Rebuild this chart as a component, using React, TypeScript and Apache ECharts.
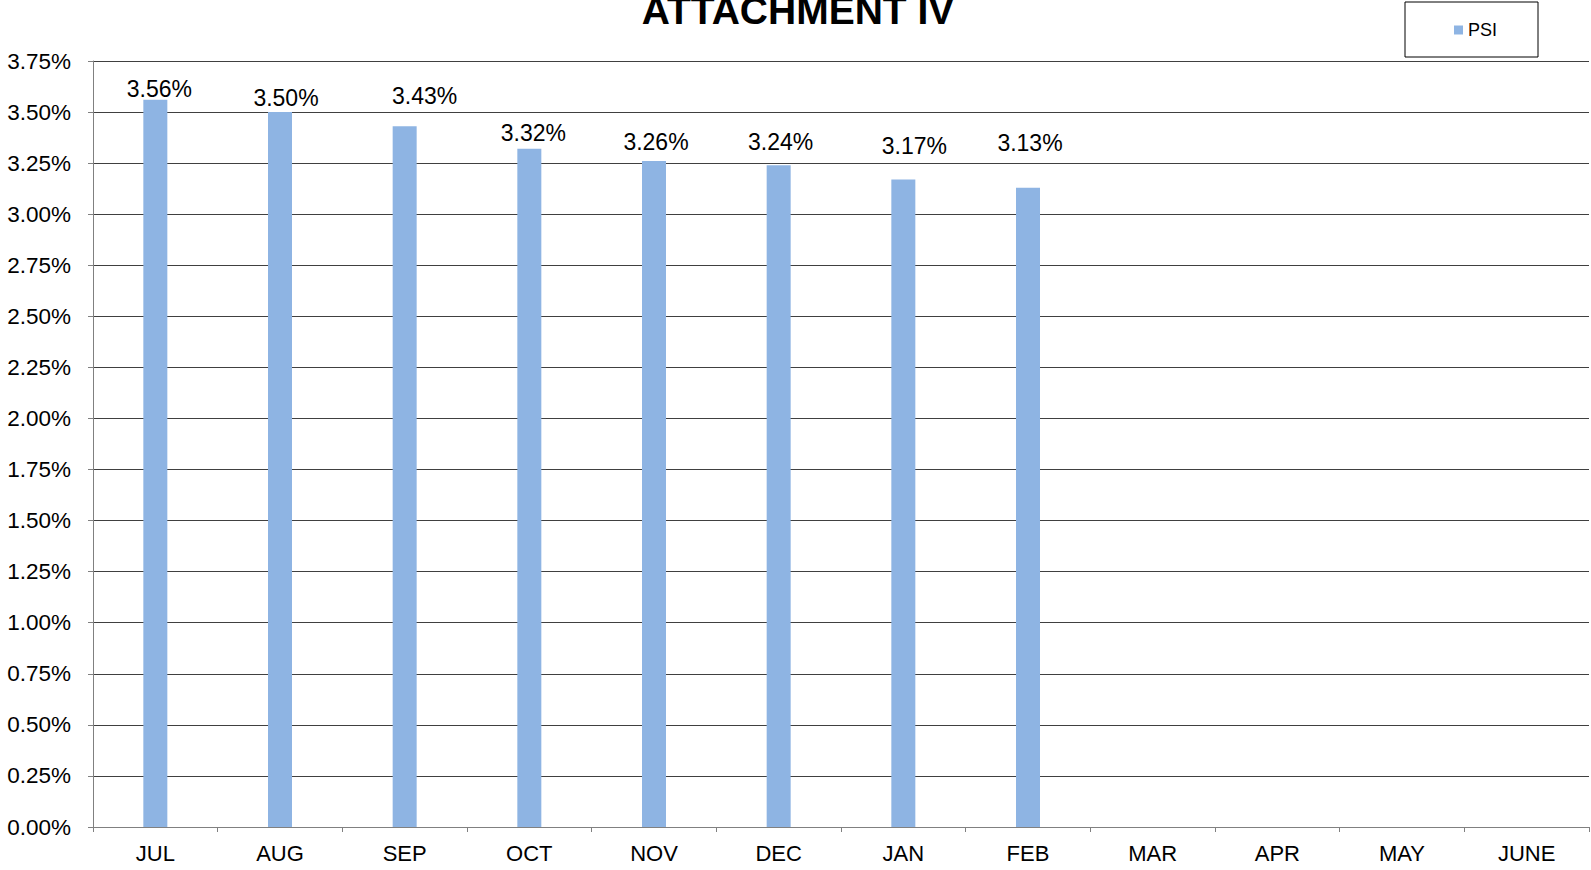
import React, { useEffect, useRef } from "react";
import * as echarts from "echarts";

const months = ["JUL", "AUG", "SEP", "OCT", "NOV", "DEC", "JAN", "FEB", "MAR", "APR", "MAY", "JUNE"];
const psiValues: (number | null)[] = [3.56, 3.5, 3.43, 3.32, 3.26, 3.24, 3.17, 3.13, null, null, null, null];
const titleText = "ATTACHMENT IV";
const seriesName = "PSI";
// manual nudges of the data labels (as placed in the original chart), in px
const labelNudges: [number, number][] = [
  [4, 2], [6, -2], [20, -18], [4, -3], [2, -7], [2, -11], [11, -21], [2, -32],
];

const FONT = "'Liberation Sans', Arial, sans-serif";

export default function App() {
  const ref = useRef<HTMLDivElement>(null);
  useEffect(() => {
    document.body.style.margin = "0";
    if (!ref.current) return;
    const chart = echarts.init(ref.current, undefined, { renderer: "svg" });
    const barData = psiValues.map((v, i) => ({
      value: v,
      label: labelNudges[i] ? { offset: labelNudges[i] } : undefined,
    }));
    chart.setOption({
      animation: false,
      backgroundColor: "#ffffff",
      textStyle: { fontFamily: FONT },
      graphic: [
        {
          type: "text",
          x: 798,
          y: 10,
          style: {
            text: titleText,
            fontFamily: FONT,
            fontSize: 39,
            fontWeight: "bold",
            fill: "#000",
            textAlign: "center",
            textVerticalAlign: "middle",
          },
        },
      ],
      legend: {
        left: 1405,
        top: 2,
        padding: [19, 41, 18, 49],
        borderColor: "#000",
        borderWidth: 1,
        itemWidth: 9,
        itemHeight: 9,
        itemGap: 5,
        icon: "rect",
        textStyle: { fontFamily: FONT, fontSize: 18, color: "#000" },
        data: [seriesName],
      },
      grid: { left: 93, right: 2, top: 61, bottom: 43, containLabel: false },
      xAxis: {
        type: "category",
        data: months,
        axisLine: { show: true, lineStyle: { color: "#808080", width: 1 } },
        axisTick: { show: true, alignWithLabel: false, length: 5, lineStyle: { color: "#808080" } },
        axisLabel: { color: "#000", fontSize: 22, fontFamily: FONT, margin: 15, interval: 0 },
        splitLine: { show: false },
      },
      yAxis: {
        type: "value",
        min: 0,
        max: 3.75,
        interval: 0.25,
        axisLine: { show: true, lineStyle: { color: "#808080", width: 1 } },
        axisTick: { show: true, length: 5, lineStyle: { color: "#808080" } },
        axisLabel: {
          color: "#000",
          fontSize: 22.5,
          fontFamily: FONT,
          margin: 22,
          formatter: (v: number) => v.toFixed(2) + "%",
        },
        splitLine: { show: true, lineStyle: { color: "#404040", width: 1 } },
      },
      series: [
        {
          name: seriesName,
          type: "bar",
          data: barData,
          barWidth: 24,
          itemStyle: { color: "#8EB4E3" },
          label: {
            show: true,
            position: "top",
            distance: 1,
            color: "#000",
            fontSize: 23,
            fontFamily: FONT,
            formatter: (p: any) => (p.value == null ? "" : Number(p.value).toFixed(2) + "%"),
          },
        },
      ],
    });
    return () => chart.dispose();
  }, []);
  return <div ref={ref} style={{ width: 1591, height: 870 }} />;
}
